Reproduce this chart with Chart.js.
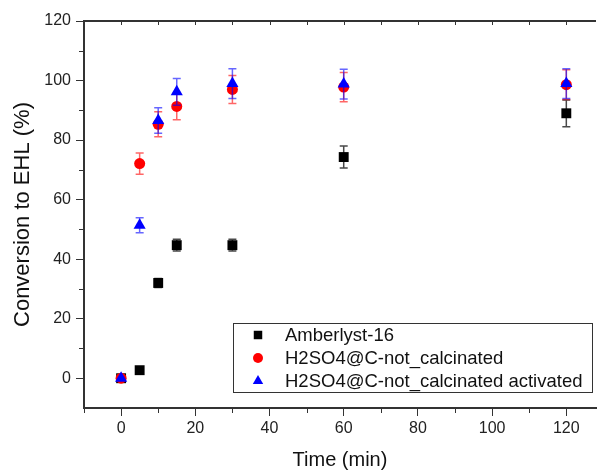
<!DOCTYPE html>
<html>
<head>
<meta charset="utf-8">
<script src="https://cdn.jsdelivr.net/npm/chart.js@4"></script>
<style>
  html, body { margin: 0; padding: 0; background: #fff; overflow: hidden; }
  #wrap { width: 603px; height: 470px; }
</style>
</head>
<body>
<div id="wrap"><canvas id="chart"></canvas></div>
<script>
// values
const times = [0, 5, 10, 15, 30, 60, 120];
const amberlyst = [0, 2.7, 32, 44.7, 44.7, 74.3, 89];
const amberlystErr = [0, 0.5, 1.5, 2, 2, 3.7, 4.5];
const notCalcinated = [0, 72.1, 85.3, 91.3, 97, 97.8, 98.6];
const notCalcinatedErr = [0, 3.6, 4.2, 4.5, 4.7, 4.9, 5];
const activated = [0, 51.4, 86.6, 96.2, 99, 98.8, 99];
const activatedErr = [0, 2.5, 4.3, 4.5, 5, 5, 5];
const xTickLabels = [0, 20, 40, 60, 80, 100, 120];
const yTickLabels = [0, 20, 40, 60, 80, 100, 120];

const FONT = '"Liberation Sans", Arial, sans-serif';
const AXIS = '#333';

function points(vals) {
    return vals.map((v, i) => ({ x: times[i], y: v }));
}

// ticks every 10, labels only on the listed values
function tensFrom(lo, hi) {
    const out = [];
    for (let v = lo; v <= hi; v += 10) out.push({ value: v });
    return out;
}

// error bars under each dataset's own markers
const errorBars = {
    id: 'errorBars',
    beforeDatasetDraw(chart, args) {
        const ds = chart.data.datasets[args.index];
        if (!ds.errors) return;
        const xs = chart.scales.x, ys = chart.scales.y;
        const ctx = chart.ctx;
        ctx.save();
        ctx.strokeStyle = ds.errorColor;
        ctx.lineWidth = 1.5;
        ds.data.forEach((p, i) => {
            const e = ds.errors[i];
            if (!e) return;
            const px = xs.getPixelForValue(p.x);
            const top = ys.getPixelForValue(p.y + e);
            const bot = ys.getPixelForValue(p.y - e);
            ctx.beginPath();
            ctx.moveTo(px, top); ctx.lineTo(px, bot);
            ctx.moveTo(px - 4, top); ctx.lineTo(px + 4, top);
            ctx.moveTo(px - 4, bot); ctx.lineTo(px + 4, bot);
            ctx.stroke();
        });
        ctx.restore();
    }
};

// top border, inward top ticks, short minor ticks
const frame = {
    id: 'frame',
    afterDraw(chart) {
        const ctx = chart.ctx;
        const a = chart.chartArea;
        const xs = chart.scales.x, ys = chart.scales.y;
        ctx.save();
        ctx.strokeStyle = AXIS;
        ctx.lineWidth = 2;
        ctx.beginPath();
        ctx.moveTo(a.left - 1, a.top);
        ctx.lineTo(a.right, a.top);
        ctx.stroke();
        ctx.lineWidth = 1;
        ctx.beginPath();
        for (let v = -10; v <= 120; v += 10) {
            const px = Math.round(xs.getPixelForValue(v)) + 0.5;
            ctx.moveTo(px, a.top);
            ctx.lineTo(px, a.top + 4);
            if (v % 20 !== 0) {
                ctx.moveTo(px, a.bottom);
                ctx.lineTo(px, a.bottom + 5);
            }
        }
        for (let v = 10; v <= 110; v += 20) {
            const py = Math.round(ys.getPixelForValue(v)) + 0.5;
            ctx.moveTo(a.left, py);
            ctx.lineTo(a.left - 5, py);
        }
        ctx.stroke();
        ctx.restore();
    }
};

// boxed legend inside the plot
const boxLegend = {
    id: 'boxLegend',
    afterDraw(chart) {
        const ctx = chart.ctx;
        ctx.save();
        ctx.fillStyle = '#fff';
        ctx.fillRect(233, 323, 360, 70);
        ctx.strokeStyle = AXIS;
        ctx.lineWidth = 1;
        ctx.strokeRect(233.5, 323.5, 359, 69);
        ctx.textBaseline = 'middle';
        chart.data.datasets.forEach((ds, i) => {
            const y = 335 + i * 23;
            ctx.fillStyle = ds.backgroundColor;
            ctx.strokeStyle = ds.backgroundColor;
            Chart.helpers.drawPoint(ctx, {
                pointStyle: ds.pointStyle,
                radius: ds.legendRadius,
                borderWidth: 0
            }, 258, y);
            ctx.fillStyle = '#111';
            ctx.font = '18.5px ' + FONT;
            ctx.fillText(ds.label, 285, y + 1);
        });
        ctx.restore();
    }
};

new Chart(document.getElementById('chart'), {
    type: 'scatter',
    data: {
        datasets: [
            {
                label: 'Amberlyst-16',
                data: points(amberlyst),
                errors: amberlystErr,
                errorColor: 'rgba(40,40,40,0.85)',
                pointStyle: 'rect',
                pointRadius: 7,
                legendRadius: 6,
                backgroundColor: '#000',
                borderColor: '#000',
                borderWidth: 0,
                order: 2
            },
            {
                label: 'H2SO4@C-not_calcinated',
                data: points(notCalcinated),
                errors: notCalcinatedErr,
                errorColor: 'rgba(255,0,0,0.6)',
                pointStyle: 'circle',
                pointRadius: 5.5,
                legendRadius: 5,
                backgroundColor: '#ff0000',
                borderColor: '#ff0000',
                borderWidth: 0,
                order: 1
            },
            {
                label: 'H2SO4@C-not_calcinated activated',
                data: points(activated),
                errors: activatedErr,
                errorColor: 'rgba(0,0,255,0.6)',
                pointStyle: 'triangle',
                pointRadius: 7,
                legendRadius: 6,
                backgroundColor: '#0000ff',
                borderColor: '#0000ff',
                borderWidth: 0,
                order: 0
            }
        ]
    },
    options: {
        responsive: true,
        maintainAspectRatio: false,
        animation: false,
        layout: { padding: { top: 21, right: 0, left: 0, bottom: 0 } },
        plugins: {
            legend: { display: false },
            tooltip: { enabled: false }
        },
        scales: {
            x: {
                type: 'linear',
                position: 'bottom',
                min: -10,
                max: 128,
                afterBuildTicks: (s) => { s.ticks = tensFrom(-10, 120); },
                afterFit: (s) => { s.height = 62; },
                ticks: {
                    autoSkip: false,
                    maxRotation: 0,
                    padding: 3,
                    color: '#222',
                    font: { family: FONT, size: 16 },
                    callback: (v) => xTickLabels.includes(v) ? String(v) : ''
                },
                grid: {
                    drawOnChartArea: false,
                    tickLength: 8,
                    tickWidth: 1,
                    color: (c) => (c.tick && xTickLabels.includes(c.tick.value)) ? AXIS : 'rgba(0,0,0,0)'
                },
                border: { display: true, color: AXIS, width: 2 },
                title: {
                    display: true,
                    text: 'Time (min)',
                    color: '#111',
                    font: { family: FONT, size: 20, lineHeight: 1 },
                    padding: { top: 0, bottom: 0 }
                }
            },
            y: {
                type: 'linear',
                min: -10,
                max: 120,
                afterBuildTicks: (s) => { s.ticks = tensFrom(-10, 120); },
                afterFit: (s) => { s.width = 84; },
                ticks: {
                    autoSkip: false,
                    padding: 5,
                    color: '#222',
                    font: { family: FONT, size: 16 },
                    callback: (v) => yTickLabels.includes(v) ? String(v) : ''
                },
                grid: {
                    drawOnChartArea: false,
                    tickLength: 8,
                    tickWidth: 1,
                    color: (c) => (c.tick && yTickLabels.includes(c.tick.value)) ? AXIS : 'rgba(0,0,0,0)'
                },
                border: { display: true, color: AXIS, width: 2 },
                title: {
                    display: true,
                    text: 'Conversion to EHL (%)',
                    color: '#111',
                    font: { family: FONT, size: 22, lineHeight: 1.2 },
                    padding: { top: 10, bottom: 0 }
                }
            }
        }
    },
    plugins: [errorBars, frame, boxLegend]
});
</script>
</body>
</html>
